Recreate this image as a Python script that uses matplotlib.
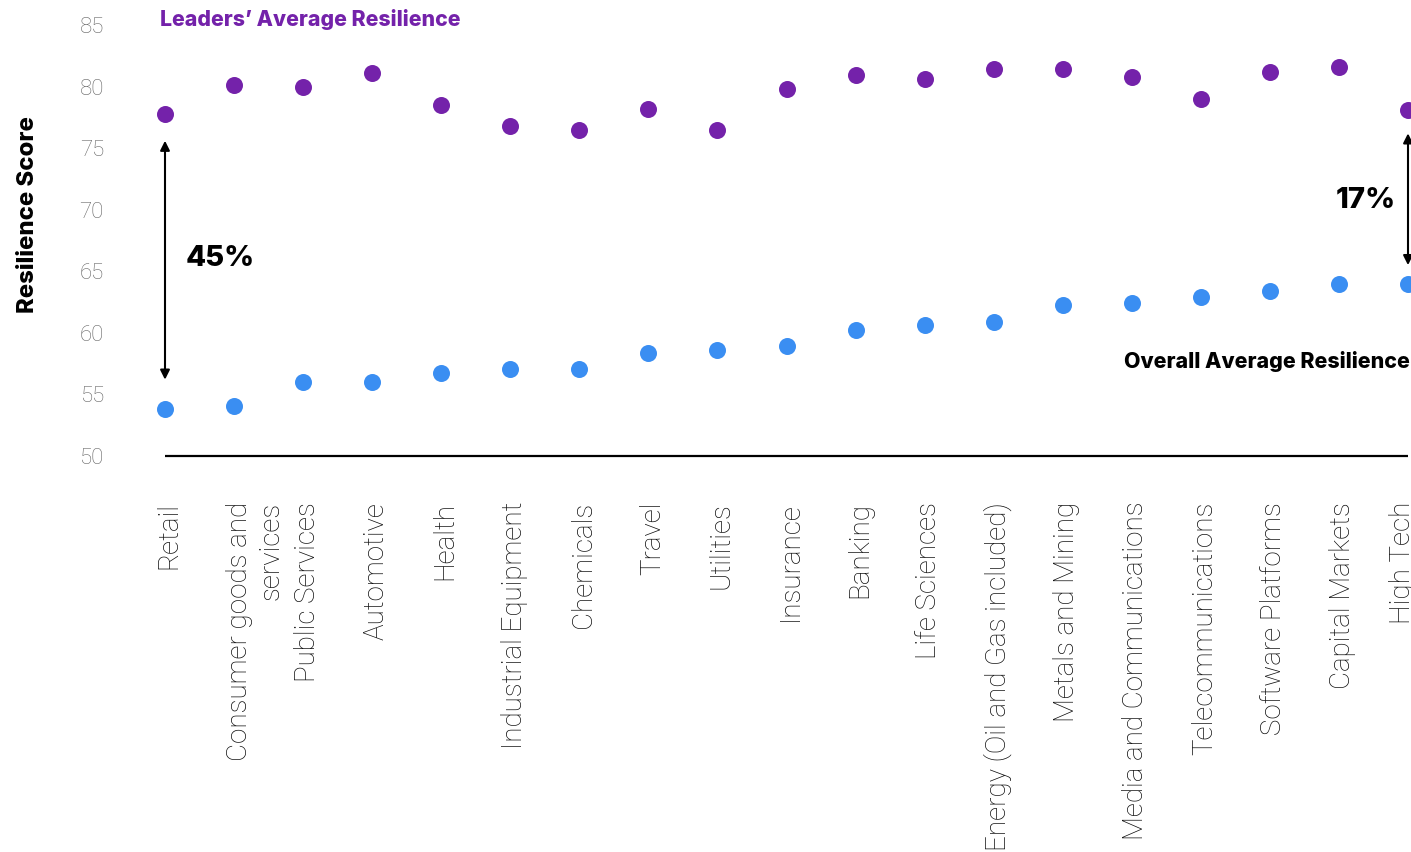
import matplotlib
matplotlib.use("Agg")
import matplotlib.pyplot as plt
import matplotlib.transforms as mtransforms

categories = ["Retail", "Consumer goods and\nservices", "Public Services", "Automotive",
              "Health", "Industrial Equipment", "Chemicals", "Travel", "Utilities",
              "Insurance", "Banking", "Life Sciences", "Energy (Oil and Gas included)",
              "Metals and Mining", "Media and Communications", "Telecommunications",
              "Software Platforms", "Capital Markets", "High Tech"]
leaders = [77.8, 80.1, 80.0, 81.1, 78.5, 76.8, 76.5, 78.2, 76.5, 79.8,
           80.9, 80.6, 81.4, 81.4, 80.8, 79.0, 81.2, 81.6, 78.1]
overall = [53.8, 54.1, 56.0, 56.0, 56.7, 57.1, 57.1, 58.4, 58.6, 58.9,
           60.2, 60.6, 60.9, 62.3, 62.4, 62.9, 63.4, 64.0, 64.0]
yticks = [50, 55, 60, 65, 70, 75, 80, 85]

PURPLE = "#7422AA"
BLUE = "#3A8EF2"
W, H = 1411, 852
fig = plt.figure(figsize=(W / 100, H / 100), dpi=100)
x0, x1 = 165, 1411
ytop, ybot = 25, 456
ax = fig.add_axes([x0 / W, (H - ybot) / H, (x1 - x0) / W, (ybot - ytop) / H])
n = len(categories)
xs = list(range(n))
ax.set_xlim(0, (n - 1) * (x1 - x0) / (1408 - x0))
ax.set_ylim(50, 85)

ax.scatter(xs, leaders, s=150, color=PURPLE, clip_on=False, zorder=3, linewidths=0)
ax.scatter(xs, overall, s=150, color=BLUE, clip_on=False, zorder=3, linewidths=0)
ax.hlines(50, 0, n - 1, color="black", lw=1.6, clip_on=False)

for s in ax.spines.values():
    s.set_visible(False)
ax.set_yticks(yticks)
ax.set_yticklabels([str(v) for v in yticks], fontsize=16, color="#666666",
                   fontfamily="Roboto", fontweight="light")
ax.tick_params(axis="y", length=0, pad=44)
ax.set_xticks(xs)
ax.set_xticklabels(categories, rotation=90, fontsize=20, color="#111111",
                   fontfamily="Roboto", fontweight="light", va="top", ha="center",
                   multialignment="right")
ax.tick_params(axis="x", length=0, pad=33)
labs = ax.get_xticklabels()
offsets = [4] * n
offsets[1] = 21
offsets[-1] = -5
for lab, off in zip(labs, offsets):
    lab.set_transform(lab.get_transform() + mtransforms.ScaledTranslation(off / 100, 0, fig.dpi_scale_trans))

BOLD = dict(fontfamily="Inter", fontweight="heavy")
fig.text(28 / W, 1 - 215 / H, "Resilience Score", rotation=90, ha="center", va="center",
         fontsize=17.2, **BOLD)
fig.text(160 / W, 1 - 19 / H, "Leaders\u2019 Average Resilience", ha="left", va="center",
         fontsize=15.3, color=PURPLE, **BOLD)
fig.text(1410 / W, 1 - 361 / H, "Overall Average Resilience", ha="right", va="center",
         fontsize=15.4, color="black", **BOLD)

ax.annotate("", xy=(0, 56.2), xytext=(0, 75.6),
            arrowprops=dict(arrowstyle="<|-|>", color="black", lw=1.5, mutation_scale=14,
                            shrinkA=0, shrinkB=0), annotation_clip=False)
ax.annotate("", xy=(n - 1, 65.5), xytext=(n - 1, 76.2),
            arrowprops=dict(arrowstyle="<|-|>", color="black", lw=1.5, mutation_scale=14,
                            shrinkA=0, shrinkB=0), annotation_clip=False)
fig.text(186 / W, 1 - 259 / H, "45%", ha="left", va="center", fontsize=21, **BOLD)
fig.text(1396 / W, 1 - 200 / H, "17%", ha="right", va="center", fontsize=21, **BOLD)

fig.savefig("out.png", dpi=100)
